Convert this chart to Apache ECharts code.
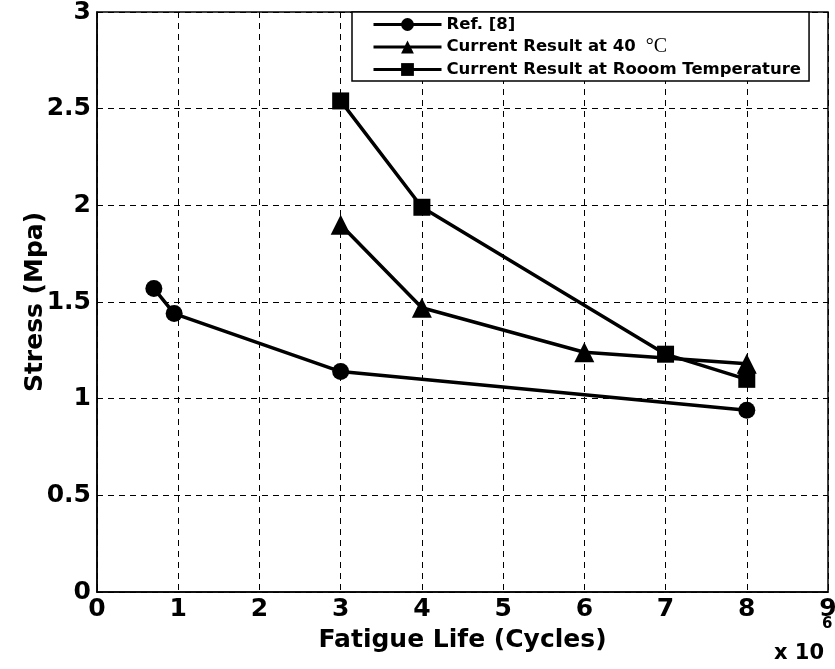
<!DOCTYPE html>
<html>
<head>
<meta charset="utf-8">
<script src="https://cdn.jsdelivr.net/npm/echarts@6/dist/echarts.min.js"></script>
<style>
  html, body { margin: 0; padding: 0; background: #fff; }
  #chart { width: 835px; height: 669px; }
</style>
</head>
<body>
<div id="chart"></div>
<script>
// fatigue life in units of 10^6 cycles, stress in MPa
const refLife = [0.7, 0.95, 3, 8];
const refStress = [1.57, 1.44, 1.14, 0.94];

const hotLife = [3, 4, 6, 8];
const hotStress = [1.9, 1.47, 1.24, 1.18];

const roomLife = [3, 4, 7, 8];
const roomStress = [2.54, 1.99, 1.23, 1.1];

const seriesNames = ['Ref. [8]', 'Current Result at 40 °C', 'Current Result at Rooom Temperature'];
const xTicks = [0, 1, 2, 3, 4, 5, 6, 7, 8, 9];
const yTicks = [0, 0.5, 1, 1.5, 2, 2.5, 3];

const font = 'DejaVu Sans, Liberation Sans, Arial, sans-serif';

function pairs(xs, ys) {
    return xs.map((x, i) => [x, ys[i]]);
}

function makeSeries(name, xs, ys, symbol, size) {
    return {
        name: name,
        type: 'line',
        data: pairs(xs, ys),
        symbol: symbol,
        symbolSize: size,
        lineStyle: { color: '#000', width: 3.5 },
        itemStyle: { color: '#000' },
        animation: false
    };
}

const chart = echarts.init(document.getElementById('chart'));

const option = {
    backgroundColor: '#fff',
    animation: false,
    grid: {
        left: 97, right: 7, top: 12, bottom: 77,
        outerBoundsMode: 'none',
        show: true, borderColor: '#000', borderWidth: 1.5
    },
    legend: {
        orient: 'vertical',
        left: 352, top: 12,
        padding: [4, 8, 3, 20],
        itemWidth: 68, itemHeight: 16, itemGap: 4,
        backgroundColor: '#fff',
        borderColor: '#000', borderWidth: 1.5,
        lineStyle: { width: 3, color: '#000' },
        data: seriesNames,
        formatter: function (name) {
            if (name === seriesNames[1]) return '{b|Current Result at 40}   {c|°C}';
            return '{b|' + name + '}';
        },
        textStyle: {
            rich: {
                b: { fontFamily: font, fontWeight: 'bold', fontSize: 16.5, lineHeight: 17, color: '#000' },
                c: { fontFamily: 'Liberation Serif, serif', fontSize: 20, lineHeight: 17, color: '#000' }
            }
        }
    },
    xAxis: {
        type: 'value',
        min: 0, max: 9, interval: 1,
        name: 'Fatigue Life (Cycles)',
        nameLocation: 'middle',
        nameGap: 36,
        nameMoveOverlap: false,
        nameTextStyle: { fontFamily: font, fontWeight: 'bold', fontSize: 25, color: '#000' },
        axisLine: { lineStyle: { color: '#000', width: 1.5 } },
        axisTick: { show: false },
        axisLabel: {
            fontFamily: font, fontWeight: 'bold', fontSize: 25, color: '#000', margin: 5,
            formatter: v => xTicks.includes(v) ? String(v) : ''
        },
        splitLine: { show: true, lineStyle: { color: '#000', type: [6, 5], width: 1 } }
    },
    yAxis: {
        type: 'value',
        min: 0, max: 3, interval: 0.5,
        name: 'Stress (Mpa)',
        nameLocation: 'middle',
        nameGap: 49,
        nameMoveOverlap: false,
        nameTextStyle: { fontFamily: font, fontWeight: 'bold', fontSize: 25, color: '#000' },
        axisLine: { lineStyle: { color: '#000', width: 1.5 } },
        axisTick: { show: false },
        axisLabel: {
            fontFamily: font, fontWeight: 'bold', fontSize: 25, color: '#000', margin: 6,
            formatter: v => yTicks.includes(v) ? String(v) : ''
        },
        splitLine: { show: true, lineStyle: { color: '#000', type: [6, 5], width: 1 } }
    },
    graphic: [
        {
            type: 'text', left: 774, top: 643,
            style: { text: 'x 10', fontFamily: font, fontWeight: 'bold', fontSize: 21, fill: '#000' }
        },
        {
            type: 'text', left: 822, top: 617,
            style: { text: '6', fontFamily: font, fontWeight: 'bold', fontSize: 15, fill: '#000' }
        }
    ],
    series: [
        makeSeries(seriesNames[0], refLife, refStress, 'circle', 17),
        makeSeries(seriesNames[1], hotLife, hotStress, 'triangle', 20),
        makeSeries(seriesNames[2], roomLife, roomStress, 'rect', 17)
    ]
};

chart.setOption(option);
</script>
</body>
</html>
